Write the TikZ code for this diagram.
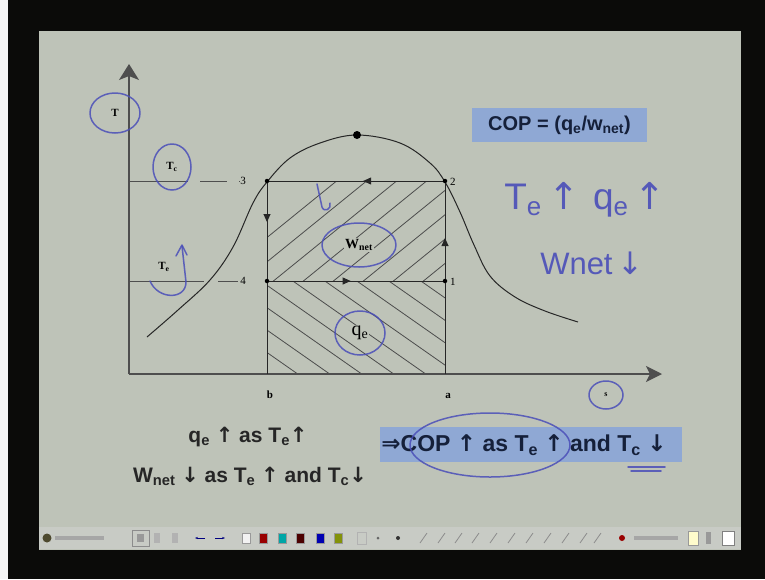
\documentclass[tikz,border=0pt]{standalone}
\usepackage{fontspec}
\setmainfont{Liberation Serif}
\newfontfamily\ssf{Liberation Sans}
\newfontfamily\arr{DejaVu Sans}
\usetikzlibrary{arrows.meta,decorations.markings}
\definecolor{slidebg}{HTML}{BEC3B8}
\definecolor{framebk}{HTML}{0B0B09}
\definecolor{ink}{HTML}{4A4EB8}
\definecolor{boxblue}{HTML}{8FA8D4}
\definecolor{navy}{HTML}{15203A}
\definecolor{axisgray}{HTML}{4E4E4E}
\definecolor{barbg}{HTML}{C8CBC5}
\tikzset{
  axisline/.style={draw=axisgray, line width=1.3pt},
  cycline/.style={draw=black!85, line width=0.9pt},
  hatchline/.style={draw=black!70, line width=0.8pt},
  pen/.style={draw=ink, line width=1.5pt, line cap=round, line join=round, opacity=0.85},
  dotnode/.style={circle, fill=black, inner sep=0pt, minimum size=4.5pt},
  glbl/.style={font=\fontsize{11}{11}\selectfont\bfseries, inner sep=1pt},
  numlbl/.style={font=\fontsize{11}{11}\selectfont, inner sep=1pt},
  midarrow/.style={postaction={decorate}, decoration={markings, mark=at position #1 with {\arrow{Triangle[length=8pt,width=7pt]}}}},
  handtext/.style={text=ink, opacity=0.9, inner sep=0pt},
  icon/.style={minimum width=8pt, minimum height=10pt, inner sep=0pt, draw=black!40, line width=0.3pt},
}
\begin{document}
\begin{tikzpicture}[x=1pt,y=-1pt]
\useasboundingbox (0,0) rectangle (765,579);
% frame and slide
\fill[framebk] (0,0) rectangle (765,579);
\fill[white!92!gray] (0,0) rectangle (8,579);
\fill[slidebg] (39,31) rectangle (741,550);

% key coordinates
\coordinate (O) at (129,374);
\coordinate (Ttip) at (129,64);
\coordinate (Stip) at (662,374);
\coordinate (P3) at (267,181);
\coordinate (P2) at (445,181);
\coordinate (P4) at (267,281);
\coordinate (P1) at (445,281);
\coordinate (B) at (267,374);
\coordinate (A) at (445,374);
\coordinate (TcA) at (129,181);
\coordinate (TeA) at (129,281);

% hatching
\begin{scope}
  \clip (P3) rectangle (P1);
  \foreach \i in {0,...,12}
    \draw[hatchline] (190+\i*30, 300) -- ++(170,-138);
\end{scope}
\begin{scope}
  \clip (P4) rectangle (A);
  \foreach \i in {0,...,11}
    \draw[hatchline] (120+\i*32, 272) -- ++(200,140);
\end{scope}

% axes
\draw[axisline, -{Stealth[length=16pt,width=20pt,inset=4pt]}] (O) -- (Ttip);
\draw[axisline, -{Stealth[length=16pt,width=16pt,inset=4pt]}] (O) -- (Stip);

% dashed temperature lines
\node[numlbl] (n3) at (243,181) {3};
\node[numlbl] (n4) at (243,281) {4};
\draw[axisline, line width=1pt, dash pattern=on 59pt off 12pt on 27pt off 12pt] (TcA) -- (n3.west);
\draw[axisline, line width=1pt, dash pattern=on 75pt off 14pt on 20pt off 12pt] (TeA) -- (n4.west);

% cycle
\draw[cycline, midarrow=0.46] (P2) -- (P3);
\draw[cycline, midarrow=0.41] (P3) -- (P4);
\draw[cycline, midarrow=0.47] (P4) -- (P1);
\draw[cycline, midarrow=0.43] (P1) -- (P2);
\draw[cycline] (P4) -- (B);
\draw[cycline] (P1) -- (A);

% saturation dome
\draw[black!85, line width=1pt] plot[smooth, tension=0.6] coordinates {
 (147,337) (178,310) (210,280) (233,247) (253,203) (267,182) (290,158) (320,143)
 (357,135) (400,143) (430,163) (445,182) (460,212) (474,245) (490,276) (515,297) (545,311) (578,322)};

% dots
\node[dotnode] at (P3) {};
\node[dotnode] at (P2) {};
\node[dotnode] at (P4) {};
\node[dotnode] at (P1) {};
\node[dotnode, minimum size=8pt] (crit) at (357,135) {};

% numeric labels
\node[numlbl, anchor=west] (n2) at (449,182) {2};
\node[numlbl, anchor=west] (n1) at (449,282) {1};
\node[glbl] (lb) at (270,395) {b};
\node[glbl] (la) at (448,396) {a};

% graph labels
\node[glbl] (lT) at (115,113) {T};
\node[glbl] (lTc) at (172,167) {T\textsubscript{c}};
\node[glbl] (lTe) at (164,267) {T\textsubscript{e}};
\node[font=\fontsize{14}{14}\selectfont\bfseries, fill=slidebg, inner sep=1.5pt] (lW) at (359,245) {W\textsubscript{net}};
\node[font=\fontsize{20}{20}\selectfont, fill=slidebg, inner sep=1pt] (lq) at (360,333) {q\textsubscript{e}};
\node[font=\fontsize{8}{8}\selectfont\bfseries, inner sep=0pt] (ls) at (606,395) {s};

% slide text
\node[fill=boxblue, minimum width=175pt, minimum height=34pt, inner sep=0pt,
      font=\ssf\bfseries\fontsize{20}{20}\selectfont, text=navy] (cop) at (559.5,125)
      {COP = (q\textsubscript{e}/w\textsubscript{net})};
\node[font=\ssf\bfseries\fontsize{21}{21}\selectfont, text=black!85] (l1) at (248,437)
      {q\textsubscript{e} {\arr↑} as T\textsubscript{e}{\arr↑}};
\node[font=\ssf\bfseries\fontsize{21}{21}\selectfont, text=black!85] (l2) at (250,476)
      {W\textsubscript{net} {\arr↓} as T\textsubscript{e} {\arr↑} and T\textsubscript{c}{\arr↓}};
\node[fill=boxblue, minimum width=302pt, minimum height=35pt, inner sep=0pt] (cbox) at (531,444.5) {};
\node[font=\ssf\bfseries\fontsize{23}{23}\selectfont, text=navy] (concl) at (524,445)
      {{\arr⇒}COP {\arr↑} as T\textsubscript{e} {\arr↑} and T\textsubscript{c} {\arr↓}};

% handwriting
\draw[pen] (lT) ellipse [x radius=25, y radius=20];
\draw[pen] (lTc) ellipse [x radius=19, y radius=23];
\draw[pen] (lW) ellipse [x radius=37, y radius=22];
\draw[pen] (lq) ellipse [x radius=25, y radius=22];
\draw[pen] (ls) ellipse [x radius=17, y radius=14];
\draw[pen] (490,445) ellipse [x radius=80, y radius=32];
\draw[pen] (628,467) -- (665,467);
\draw[pen] (631,471) -- (661,471);
\draw[pen] (150,281) .. controls (158,300) and (186,300) .. (186,282) -- (182,246);
\draw[pen] (176,256) -- (182,245) -- (187,255);
\draw[pen] (317,184) -- (322,207) .. controls (324,213) and (332,209) .. (330,203);
\node[handtext, font=\ssf\fontsize{37}{37}\selectfont] (h1) at (585,200)
      {T\textsubscript{e}\,{\arr↑}\hspace{14pt}q\textsubscript{e}\,{\arr↑}};
\node[handtext, font=\ssf\fontsize{31}{31}\selectfont] (h2) at (592,263) {Wnet\,{\arr↓}};

% toolbar
\fill[barbg] (39,527) rectangle (741,549);
\fill[black!60!olive] (47,538) circle (4.5pt);
\fill[black!35] (55,536) rectangle (104,540);
\draw[black!45, line width=0.6pt] (132,530) rectangle (149,546);
\fill[black!40] (137,534) rectangle (144,542);
\fill[black!30] (154,533) rectangle (160,543);
\fill[black!30] (172,533) rectangle (178,543);
\draw[blue!50!black, line width=1pt, -{Stealth[length=3pt]}] (205,538) -- (195,538);
\draw[blue!50!black, line width=1pt, -{Stealth[length=3pt]}] (215,538) -- (225,538);
\node[icon, fill=white!90!gray] at (246,538) {};
\node[icon, fill=red!60!black] at (263,538) {};
\node[icon, fill=teal!70!cyan] at (282,538) {};
\node[icon, fill=red!30!black] at (300,538) {};
\node[icon, fill=blue!70!black] at (320,538) {};
\node[icon, fill=olive!80!green] at (338,538) {};
\draw[black!30] (357,532) rectangle (366,544);
\fill[black!60] (378,538) circle (1.5pt);
\fill[black!80] (398,538) circle (2pt);
\foreach \x in {420,438,455,472,490,508,526,544,562,580,594}
  \draw[black!45, line width=0.8pt] (\x,543) -- (\x+7,533);
\fill[red!60!black] (622,538) circle (3pt);
\fill[black!35] (634,536) rectangle (678,540);
\draw[black!40, fill=yellow!20!white] (688,531) rectangle (698,545);
\fill[black!40] (706,532) rectangle (711,544);
\draw[black!50, fill=white] (722,531) rectangle (734,545);
\end{tikzpicture}
\end{document}
